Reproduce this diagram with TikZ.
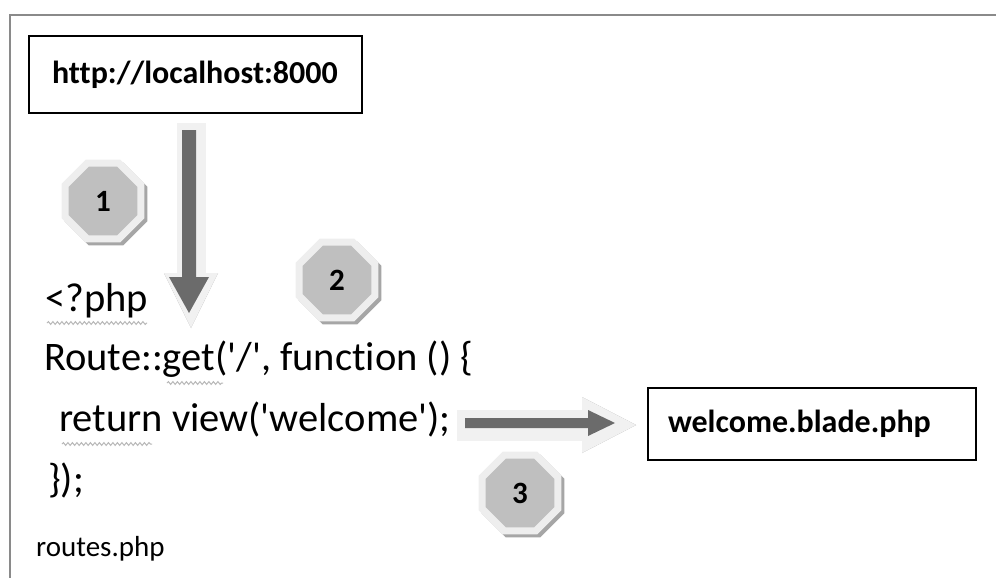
\documentclass[tikz,border=0pt]{standalone}
\usepackage{fontspec}
\setmainfont{Carlito}[Ligatures=NoCommon]
\usetikzlibrary{shapes.geometric,decorations.pathmorphing,calc}
\definecolor{octfill}{HTML}{BFBFBF}
\definecolor{octring}{HTML}{EEEEEE}
\definecolor{octshadow}{HTML}{A6A6A6}
\definecolor{arrowdark}{HTML}{6B6B6B}
\definecolor{arrowlight}{HTML}{F1F1F1}
\definecolor{arrowshadow}{HTML}{9E9E9E}
\definecolor{framegray}{HTML}{8A8A8A}
\begin{document}
\begin{tikzpicture}[x=1pt,y=-1pt,
  codeline/.style={anchor=base west, inner sep=0pt, font=\fontsize{40.5}{40.5}\selectfont},
  filebox/.style={draw=black, line width=1.3pt, align=left, font=\bfseries\fontsize{32}{32}\selectfont},
  octbase/.style={regular polygon, regular polygon sides=8, minimum size=82pt, inner sep=0pt, line width=7pt},
  octa/.style={octbase, fill=octfill, draw=octring, font=\bfseries\fontsize{31}{31}\selectfont},
  octshade/.style={octbase, fill=octshadow, draw=octshadow},
  squig/.style={draw=gray!55, line width=1pt, decorate, decoration={snake, amplitude=1.4pt, segment length=4.5pt}},
  lightarrow/.style={fill=arrowlight},
  darkarrow/.style={fill=arrowdark},
  shadearrow/.style={fill=arrowshadow}
]
\useasboundingbox (0,0) rectangle (996,578);
\fill[white] (0,0) rectangle (996,578);
% frame
\draw[framegray, line width=2.5pt] (10,578) -- (10,15) -- (996,15);

% boxes
\node[filebox, text width=287pt, inner xsep=23pt, minimum height=77pt] (url) at (195.5,74.5) {http://localhost:8000};
\node[filebox, text width=288pt, inner xsep=20pt, minimum height=72pt] (view) at (812,424) {welcome.blade.php};

% code
\node[codeline] (php) at (45,311) {<?php};
\node[codeline] (route) at (44,370) {Route::get(\textquotesingle/\textquotesingle, function () \{};
\node[codeline] (ret) at (59,431) {return view(\textquotesingle welcome\textquotesingle);};
\node[codeline] (close) at (48,492) {\});};
\node[anchor=base west, inner sep=0pt, font=\fontsize{29}{29}\selectfont] (fname) at (36,556) {routes.php};

% spell-check squiggles
\draw[squig] (47,323) -- (147,323);
\draw[squig] (167,383) -- (223,383);
\draw[squig] (62,444) -- (152,444);

% step markers
\node[octshade] (s1) at (106,204) {};
\node[octa] (o1) at (103,201) {1};
\node[octshade] (s2) at (340,283) {};
\node[octa] (o2) at (337,280) {2};
\node[octshade] (s3) at (523,496) {};
\node[octa] (o3) at (520,493) {3};

% down arrow (url -> route)
\coordinate (d0) at (191,123);
\coordinate (d1) at (191,328);
\begin{scope}[xshift=3pt, yshift=-2pt]
\fill[shadearrow] ($(d0)+(-14,0)$) -- ($(d0)+(14,0)$) -- ($(d1)+(14,-55)$) -- ($(d1)+(27,-55)$) -- (d1) -- ($(d1)+(-27,-55)$) -- ($(d1)+(-14,-55)$) -- cycle;
\end{scope}
\fill[lightarrow] ($(d0)+(-14,0)$) -- ($(d0)+(14,0)$) -- ($(d1)+(14,-55)$) -- ($(d1)+(27,-55)$) -- (d1) -- ($(d1)+(-27,-55)$) -- ($(d1)+(-14,-55)$) -- cycle;
\coordinate (e0) at (189,130);
\coordinate (e1) at (189,313);
\fill[darkarrow] ($(e0)+(-7,0)$) -- ($(e0)+(7,0)$) -- ($(e1)+(7,-36)$) -- ($(e1)+(20,-36)$) -- (e1) -- ($(e1)+(-20,-36)$) -- ($(e1)+(-7,-36)$) -- cycle;

% right arrow (ret -> view)
\coordinate (r0) at (457,425);
\coordinate (r1) at (636,425);
\begin{scope}[xshift=2pt, yshift=-4pt]
\fill[shadearrow] ($(r0)+(0,-15)$) -- ($(r1)+(-54,-15)$) -- ($(r1)+(-54,-28)$) -- (r1) -- ($(r1)+(-54,28)$) -- ($(r1)+(-54,15)$) -- ($(r0)+(0,15)$) -- cycle;
\end{scope}
\fill[lightarrow] ($(r0)+(0,-15)$) -- ($(r1)+(-54,-15)$) -- ($(r1)+(-54,-28)$) -- (r1) -- ($(r1)+(-54,28)$) -- ($(r1)+(-54,15)$) -- ($(r0)+(0,15)$) -- cycle;
\coordinate (q0) at (465,423);
\coordinate (q1) at (615,423);
\fill[darkarrow] ($(q0)+(0,-5)$) -- ($(q1)+(-27,-5)$) -- ($(q1)+(-27,-13)$) -- (q1) -- ($(q1)+(-27,13)$) -- ($(q1)+(-27,5)$) -- ($(q0)+(0,5)$) -- cycle;
\end{tikzpicture}
\end{document}
